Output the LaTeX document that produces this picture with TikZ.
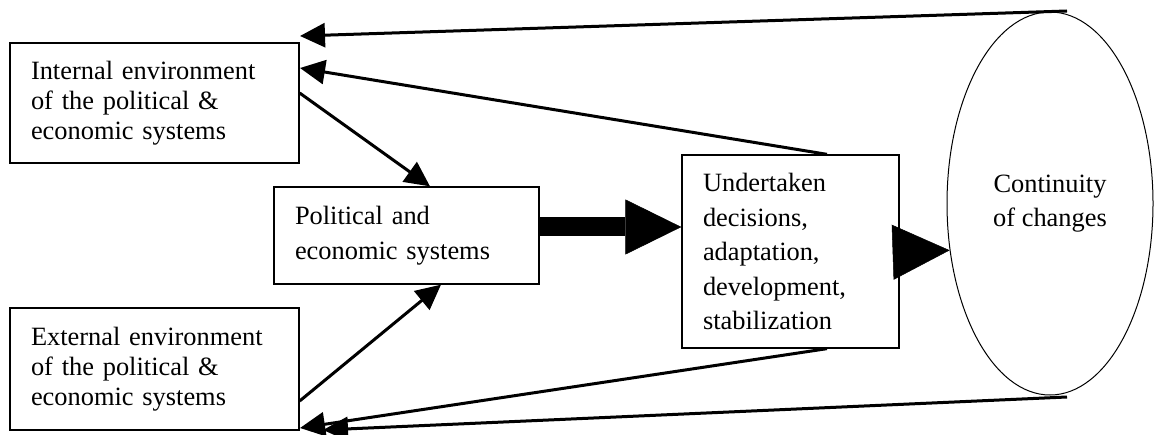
\documentclass[tikz,border=0pt]{standalone}
\usepackage{fontspec}
\setmainfont{Liberation Serif}
\usetikzlibrary{arrows.meta,shapes.geometric}
\begin{document}
\begin{tikzpicture}[x=1pt,y=-1pt,
  box/.style={draw,line width=1.3pt,fill=white,align=left,inner xsep=21pt,inner ysep=0pt,font=\fontsize{26.4}{30}\selectfont},
  wide/.style={font=\fontsize{26.4}{34.5}\selectfont},
  conn/.style={line width=3pt,-{Triangle[length=25pt,width=24pt]}},
 ]
\useasboundingbox (0,0) rectangle (1155,435);
\node[box,text width=247pt,minimum height=120pt] (I) at (154.5,103) {Internal environment\\of the political \&\\economic systems};
\node[box,text width=247pt,minimum height=122pt] (E) at (154.5,369) {External environment\\of the political \&\\economic systems};
\node[box,wide,text width=223pt,minimum height=97pt] (P) at (406.5,235.5) {Political and\\economic systems};
\node[box,wide,text width=175pt,minimum height=193pt] (U) at (790.5,251.5) {Undertaken\\decisions,\\adaptation,\\development,\\stabilization};
\node[ellipse,draw,line width=1pt,minimum width=206pt,minimum height=383pt,inner sep=0pt,align=center,wide] (C) at (1050,203.5) {Continuity\\of changes};
\coordinate (ct) at (1067,11);
\coordinate (cb) at (1067,397);
\coordinate (t1) at (300,36);
\coordinate (t2) at (300,68);
\coordinate (t3) at (300,428);
\coordinate (t4) at (323,430);
\draw[conn] (ct) -- (t1);
\draw[conn] ([xshift=36.5pt]U.north) -- (t2);
\draw[conn] ([yshift=10pt]I.east) -- ([xshift=23.5pt]P.north);
\draw[conn] ([yshift=-32pt]E.east) -- ([xshift=34.5pt]P.south);
\draw[conn] ([xshift=36.5pt]U.south) -- (t3);
\draw[conn] (cb) -- (t4);
\draw[line width=19pt,-{Triangle[length=56pt,width=55pt,line width=0.5pt]}] ([yshift=8.5pt]P.east) -- ([yshift=24.5pt]U.west);
\draw[line width=1pt,-{Triangle[length=57pt,width=55pt,line width=0.5pt]}] ([yshift=-0.5pt]U.east) -- (C.205);
\end{tikzpicture}
\end{document}
